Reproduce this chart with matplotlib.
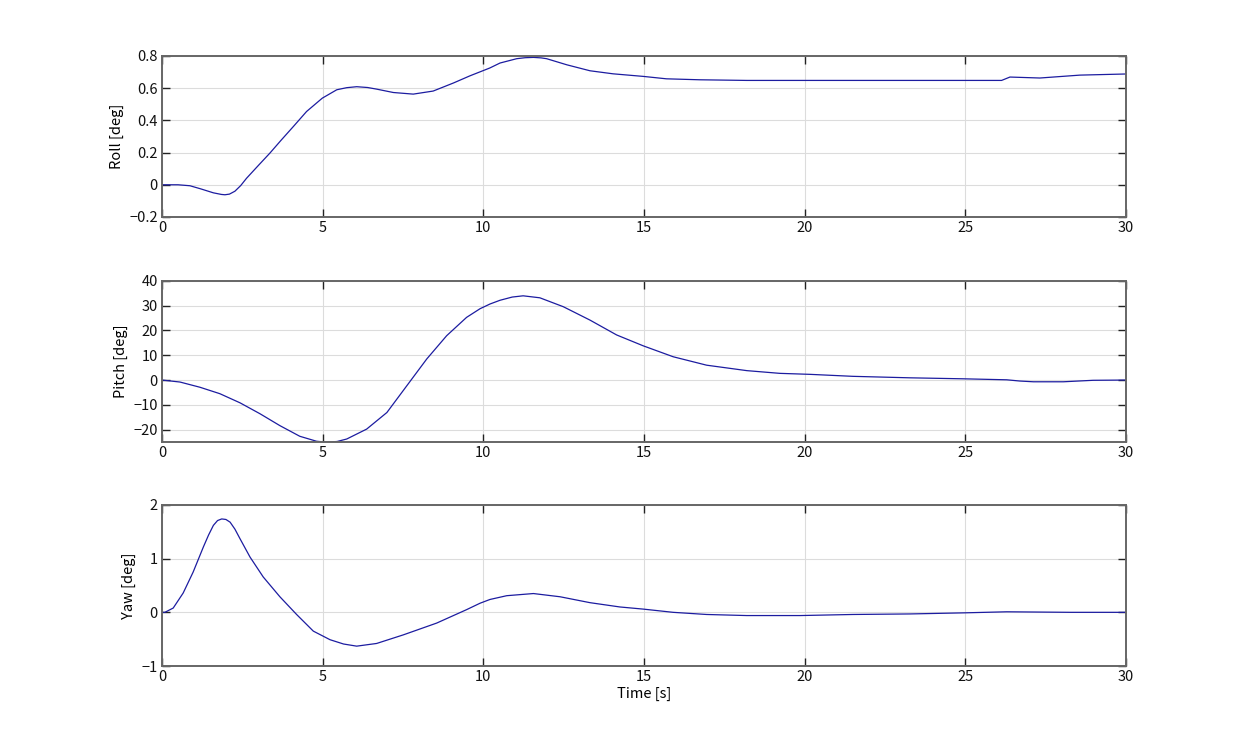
import matplotlib
matplotlib.use("Agg")
import matplotlib.pyplot as plt

# Attitude response, values
roll_t = [0, 0.5, 0.87, 1.2, 1.6, 1.85, 1.96, 2.1, 2.27, 2.45, 2.63, 3.0, 3.36,
          3.7, 4.09, 4.5, 4.99, 5.44, 5.75, 6.06, 6.4, 6.68, 7.2, 7.82, 8.44,
          9.07, 9.59, 10.2, 10.52, 11.04, 11.3, 11.56, 11.8, 11.97, 12.6, 13.32,
          14.04, 14.98, 15.7, 16.74, 18.2, 20.17, 22, 24, 26.13, 26.39, 27.32,
          28.57, 30]
roll = [0, 0, -0.006, -0.025, -0.05, -0.06, -0.062, -0.058, -0.04, -0.005, 0.04,
        0.12, 0.197, 0.275, 0.362, 0.455, 0.538, 0.59, 0.603, 0.609, 0.604, 0.594,
        0.573, 0.563, 0.582, 0.632, 0.677, 0.725, 0.756, 0.783, 0.789, 0.791,
        0.788, 0.783, 0.745, 0.708, 0.689, 0.673, 0.658, 0.652, 0.648, 0.648,
        0.648, 0.648, 0.648, 0.669, 0.663, 0.681, 0.688]

pitch_t = [0, 0.56, 1.18, 1.8, 2.43, 3.05, 3.67, 4.29, 4.81, 5.13, 5.45, 5.75,
           6.37, 7.0, 7.62, 8.24, 8.86, 9.48, 9.9, 10.21, 10.52, 10.9, 11.24, 11.76,
           12.49, 13.32, 14.15, 14.98, 15.91, 16.95, 18.2, 19.23, 20.17, 21.5,
           23.28, 24.94, 26.29, 26.7, 27.12, 28.05, 28.98, 30]
pitch = [0, -0.8, -2.9, -5.5, -9.2, -13.6, -18.4, -22.7, -24.7, -25.1, -24.8,
         -23.8, -19.8, -13.1, -2.3, 8.5, 17.9, 25.3, 28.8, 30.7, 32.2, 33.5, 34.0,
         33.2, 29.6, 24.2, 18.2, 13.8, 9.4, 6.0, 3.8, 2.7, 2.3, 1.5, 0.9, 0.5,
         0.1, -0.4, -0.7, -0.7, -0.1, 0]

yaw_t = [0, 0.09, 0.35, 0.66, 0.97, 1.29, 1.45, 1.6, 1.73, 1.86, 1.99, 2.12, 2.27,
         2.43, 2.74, 3.15, 3.67, 4.19, 4.71, 5.23, 5.65, 6.06, 6.68, 7.51, 8.55,
         9.48, 9.9, 10.21, 10.73, 11.56, 12.39, 13.32, 14.25, 14.98, 15.91, 16.95,
         18.2, 19.86, 21.5, 23.28, 24.94, 26.29, 28.3, 30]
yaw = [0, 0, 0.08, 0.36, 0.75, 1.22, 1.44, 1.62, 1.71, 1.74, 1.73, 1.68, 1.55,
       1.37, 1.03, 0.66, 0.29, -0.04, -0.35, -0.51, -0.59, -0.63, -0.58, -0.42,
       -0.2, 0.05, 0.17, 0.24, 0.31, 0.35, 0.29, 0.18, 0.1, 0.06, 0.0, -0.04,
       -0.06, -0.06, -0.04, -0.03, -0.01, 0.01, 0.0, 0.0]

panels = [
    ("Roll [deg]", roll_t, roll, (-0.2, 0.8), [-0.2, 0, 0.2, 0.4, 0.6, 0.8],
     ["\u22120.2", "0", "0.2", "0.4", "0.6", "0.8"]),
    ("Pitch [deg]", pitch_t, pitch, (-25, 40), [-20, -10, 0, 10, 20, 30, 40],
     ["\u221220", "\u221210", "0", "10", "20", "30", "40"]),
    ("Yaw [deg]", yaw_t, yaw, (-1, 2), [-1, 0, 1, 2],
     ["\u22121", "0", "1", "2"]),
]

plt.rcParams["font.family"] = ["Noto Sans CJK JP", "DejaVu Sans"]
plt.rcParams["font.size"] = 10.5

fig = plt.figure(figsize=(12.44, 7.49), dpi=100)
bottoms = [0.7103, 0.4099, 0.1108]

for (label, t, y, ylim, yticks, ylabels), b in zip(panels, bottoms):
    ax = fig.add_axes([0.1302, b, 0.7749, 0.215])
    ax.plot(t, y, color="#1c1ca0", linewidth=0.9)
    ax.set_xlim(0, 30)
    ax.set_ylim(*ylim)
    ax.set_xticks([0, 5, 10, 15, 20, 25, 30])
    ax.set_yticks(yticks)
    ax.set_yticklabels(ylabels)
    ax.set_ylabel(label, labelpad=4)
    ax.grid(True, color="#dcdcdc", linewidth=0.8)
    ax.tick_params(direction="in", length=6, width=1, top=True, right=True,
                   colors="#222222", labelcolor="#111111", pad=3)
    for s in ax.spines.values():
        s.set_color("#666666")
        s.set_linewidth(1.4)

ax.set_xlabel("Time [s]", labelpad=2)

fig.savefig("out.png", dpi=100, facecolor="white")
